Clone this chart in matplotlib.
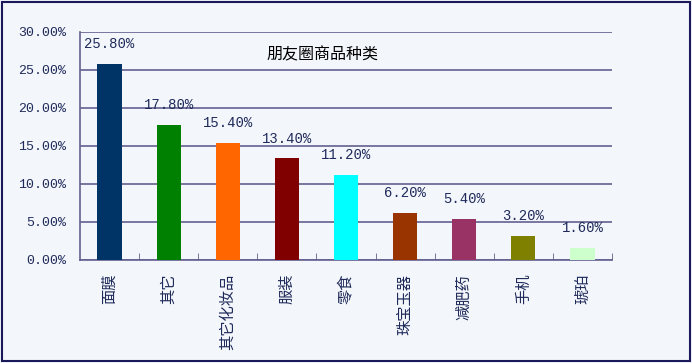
import matplotlib.pyplot as plt
from matplotlib.patches import Rectangle
from matplotlib.ticker import FixedLocator, NullFormatter

categories = ['面膜', '其它', '其它化妆品', '服装', '零食', '珠宝玉器', '减肥药', '手机', '琥珀']
values = [25.8, 17.8, 15.4, 13.4, 11.2, 6.2, 5.4, 3.2, 1.6]
colors = ['#003366', '#008000', '#FF6600', '#800000', '#00FFFF',
          '#993300', '#993366', '#808000', '#CCFFCC']
yticks = [0, 5, 10, 15, 20, 25, 30]

plt.rcParams['font.family'] = ['Noto Sans CJK SC', 'DejaVu Sans']
text_color = '#1F2A5A'
grid_color = '#64608F'
bg = '#F3F6FB'

fig = plt.figure(figsize=(6.92, 3.63), dpi=100, facecolor=bg)
fig.patches.append(Rectangle((0.003, 0.005), 0.994, 0.99, transform=fig.transFigure,
                             fill=False, edgecolor='#1A1A5A', linewidth=1.5))
ax = fig.add_axes([80/692, 1 - 260/363, 532/692, 228/363])
ax.set_facecolor(bg)

x = range(len(categories))
ax.bar(x, values, width=0.41, color=colors, zorder=3)
for i, v in enumerate(values):
    ax.annotate('{:.2f}%'.format(v), (i, v), xytext=(0, 9), textcoords='offset points',
                ha='center', va='bottom', fontsize=10, family='Liberation Mono',
                color=text_color)

ax.set_xlim(-0.5, len(categories) - 0.5)
ax.set_ylim(0, 30)
ax.set_yticks(yticks)
ax.set_yticklabels(['{:.2f}%'.format(t) for t in yticks], family='Liberation Mono',
                   fontsize=9.5, color=text_color)
ax.yaxis.grid(True, color=grid_color, linewidth=1.2, zorder=0)
ax.tick_params(axis='y', length=0, pad=10)

ax.set_xticks(list(x))
ax.set_xticklabels(categories, rotation=90, fontsize=11, color=text_color, va='top')
ax.tick_params(axis='x', length=0, pad=10)
ax.xaxis.set_minor_locator(FixedLocator([i + 0.5 for i in x]))
ax.xaxis.set_minor_formatter(NullFormatter())
ax.tick_params(axis='x', which='minor', direction='in', length=5, color=grid_color)

for s in ['top', 'right']:
    ax.spines[s].set_visible(False)
for s in ['left', 'bottom']:
    ax.spines[s].set_color(grid_color)
    ax.spines[s].set_linewidth(1.2)

ax.text(0.455, 0.9, '朋友圈商品种类', transform=ax.transAxes, ha='center', va='center',
        fontsize=11.5, color='black')

fig.savefig('out.png', dpi=100, facecolor=bg)
